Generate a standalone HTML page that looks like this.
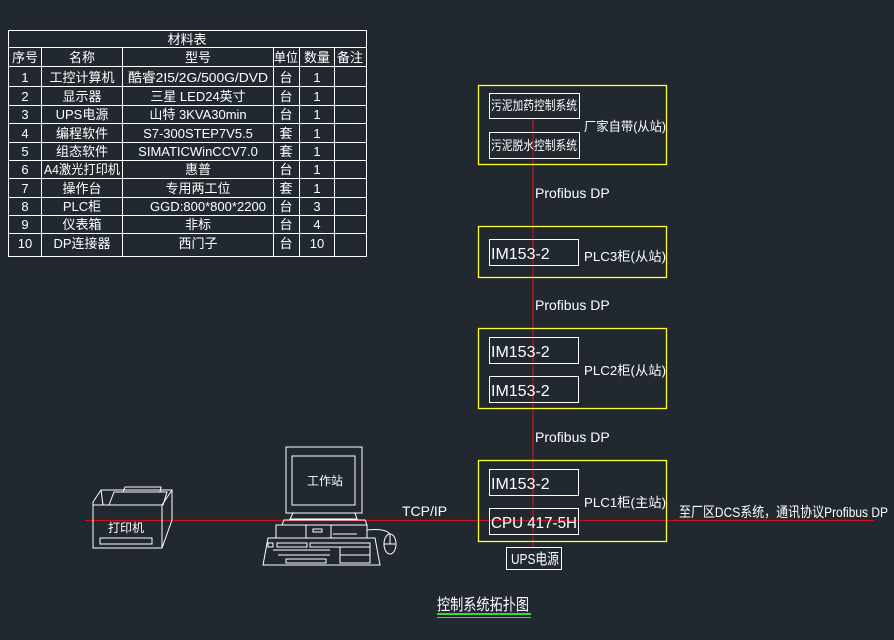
<!DOCTYPE html>
<html><head><meta charset="utf-8"><style>
html,body{margin:0;padding:0;background:#212830;}
svg{display:block;}
text{font-family:"Liberation Sans","Noto Sans CJK SC",sans-serif;fill:#fff;}
</style></head><body>
<svg width="894" height="640" viewBox="0 0 894 640" xmlns="http://www.w3.org/2000/svg">
<rect width="894" height="640" fill="#212830"/>
<g stroke="#fff" stroke-width="1" fill="none">
<rect x="8.5" y="30.5" width="358" height="226"/>
<line x1="8" y1="47.5" x2="366" y2="47.5"/>
<line x1="8" y1="66.5" x2="366" y2="66.5"/>
<line x1="8" y1="86.5" x2="366" y2="86.5"/>
<line x1="8" y1="105.5" x2="366" y2="105.5"/>
<line x1="8" y1="123.5" x2="366" y2="123.5"/>
<line x1="8" y1="142.5" x2="366" y2="142.5"/>
<line x1="8" y1="160.5" x2="366" y2="160.5"/>
<line x1="8" y1="178.5" x2="366" y2="178.5"/>
<line x1="8" y1="197.5" x2="366" y2="197.5"/>
<line x1="8" y1="215.5" x2="366" y2="215.5"/>
<line x1="8" y1="233.5" x2="366" y2="233.5"/>
<line x1="41.5" y1="47" x2="41.5" y2="256"/>
<line x1="122.5" y1="47" x2="122.5" y2="256"/>
<line x1="273.5" y1="47" x2="273.5" y2="256"/>
<line x1="299.5" y1="47" x2="299.5" y2="256"/>
<line x1="334.5" y1="47" x2="334.5" y2="256"/>
</g>
<g font-size="13" text-anchor="middle">
<text x="187" y="44">材料表</text>
<text x="25" y="62">序号</text><text x="82" y="62">名称</text><text x="198" y="62">型号</text><text x="286" y="62" textLength="24" lengthAdjust="spacingAndGlyphs">单位</text><text x="317" y="62">数量</text><text x="350" y="62">备注</text>
<text x="25" y="82">1</text><text x="82" y="82">工控计算机</text><text x="198" y="82" textLength="140" lengthAdjust="spacingAndGlyphs">酷睿2I5/2G/500G/DVD</text><text x="286" y="82">台</text><text x="317" y="82">1</text>
<text x="25" y="101">2</text><text x="82" y="101">显示器</text><text x="198" y="101">三星 LED24英寸</text><text x="286" y="101">台</text><text x="317" y="101">1</text>
<text x="25" y="119">3</text><text x="82" y="119">UPS电源</text><text x="198" y="119">山特 3KVA30min</text><text x="286" y="119">台</text><text x="317" y="119">1</text>
<text x="25" y="138">4</text><text x="82" y="138">编程软件</text><text x="198" y="138">S7-300STEP7V5.5</text><text x="286" y="138">套</text><text x="317" y="138">1</text>
<text x="25" y="156">5</text><text x="82" y="156">组态软件</text><text x="198" y="156">SIMATICWinCCV7.0</text><text x="286" y="156">套</text><text x="317" y="156">1</text>
<text x="25" y="174">6</text><text x="82" y="174" textLength="76" lengthAdjust="spacingAndGlyphs">A4激光打印机</text><text x="198" y="174">惠普</text><text x="286" y="174">台</text><text x="317" y="174">1</text>
<text x="25" y="193">7</text><text x="82" y="193">操作台</text><text x="198" y="193">专用两工位</text><text x="286" y="193">套</text><text x="317" y="193">1</text>
<text x="25" y="211">8</text><text x="82" y="211">PLC柜</text><text x="208" y="211" textLength="116" lengthAdjust="spacingAndGlyphs">GGD:800*800*2200</text><text x="286" y="211">台</text><text x="317" y="211">3</text>
<text x="25" y="229">9</text><text x="82" y="229">仪表箱</text><text x="198" y="229">非标</text><text x="286" y="229">台</text><text x="317" y="229">4</text>
<text x="25" y="248">10</text><text x="82" y="248">DP连接器</text><text x="198" y="248">西门子</text><text x="286" y="248">台</text><text x="317" y="248">10</text>
</g>
<g stroke="#d0101a" stroke-width="1.2">
<line x1="533" y1="118" x2="533" y2="547"/>
<line x1="85" y1="520.5" x2="874" y2="520.5"/>
</g>
<g stroke="#ffff33" stroke-width="1.3" fill="none">
<rect x="478.5" y="85.5" width="188" height="79"/>
<rect x="478.5" y="226.5" width="188" height="51"/>
<rect x="478.5" y="328.5" width="188" height="80"/>
<rect x="478.5" y="460.5" width="188" height="81"/>
</g>
<g stroke="#fff" stroke-width="1" fill="none">
<rect x="489.5" y="93.5" width="90" height="25"/>
<rect x="489.5" y="132.5" width="90" height="26"/>
<rect x="489.5" y="239.5" width="89" height="26"/>
<rect x="489.5" y="337.5" width="89" height="26"/>
<rect x="489.5" y="376.5" width="89" height="26"/>
<rect x="489.5" y="469.5" width="89" height="26"/>
<rect x="489.5" y="508.5" width="89" height="26"/>
<rect x="506.5" y="547.5" width="55" height="22"/>
</g>
<g font-size="13">
<text x="491" y="110" textLength="86" lengthAdjust="spacingAndGlyphs">污泥加药控制系统</text>
<text x="491" y="150" textLength="86" lengthAdjust="spacingAndGlyphs">污泥脱水控制系统</text>
<text x="584" y="131" textLength="82" lengthAdjust="spacingAndGlyphs">厂家自带(从站)</text>
<text x="491" y="259" font-size="16">IM153-2</text>
<text x="584" y="261" textLength="82" lengthAdjust="spacingAndGlyphs">PLC3柜(从站)</text>
<text x="491" y="357" font-size="16">IM153-2</text>
<text x="491" y="396" font-size="16">IM153-2</text>
<text x="584" y="375" textLength="82" lengthAdjust="spacingAndGlyphs">PLC2柜(从站)</text>
<text x="491" y="489" font-size="16">IM153-2</text>
<text x="491" y="528" font-size="16" textLength="86" lengthAdjust="spacingAndGlyphs">CPU 417-5H</text>
<text x="584" y="507" textLength="82" lengthAdjust="spacingAndGlyphs">PLC1柜(主站)</text>
<text x="511" y="564" font-size="15" textLength="48" lengthAdjust="spacingAndGlyphs">UPS电源</text>
<text x="535" y="198" font-size="14">Profibus DP</text>
<text x="535" y="310" font-size="14">Profibus DP</text>
<text x="535" y="442" font-size="14">Profibus DP</text>
<text x="402" y="516" font-size="14">TCP/IP</text>
<text x="679" y="517" font-size="14" textLength="209" lengthAdjust="spacingAndGlyphs">至厂区DCS系统，通讯协议Profibus DP</text>
<text x="437" y="610" font-size="16" textLength="92" lengthAdjust="spacingAndGlyphs">控制系统拓扑图</text>
</g>
<line x1="437" y1="614" x2="531" y2="614" stroke="#33dd33" stroke-width="2"/>
<line x1="437" y1="617.5" x2="531" y2="617.5" stroke="#33dd33" stroke-width="1"/>
<g stroke="#fff" stroke-width="1" fill="none">
<polygon points="93,502 101,490 172,490 172,520 162,548 93,548"/>
<line x1="101" y1="490" x2="103" y2="505"/>
<line x1="93" y1="505" x2="162" y2="505"/>
<line x1="162" y1="505" x2="172" y2="490"/>
<line x1="162" y1="505" x2="162" y2="548"/>
<polygon points="109,505 114,492 167,492 163,505"/>
<polygon points="123,492 125,487 161,487 160,492"/>
<rect x="100" y="538" width="52" height="6"/>
</g>
<text x="108" y="532" font-size="12">打印机</text>
<g stroke="#fff" stroke-width="1" fill="none">
<rect x="286" y="447" width="76" height="66"/>
<rect x="292" y="456" width="63" height="49"/>
<polygon points="293,513 355,513 357,519 290,519"/>
<polygon points="284,520 365,520 367,525 282,525"/>
<rect x="276" y="525" width="91" height="13"/>
<line x1="306" y1="525" x2="306" y2="538"/>
<line x1="331" y1="525" x2="331" y2="538"/>
<rect x="313" y="529" width="9" height="3"/>
<line x1="333" y1="534" x2="357" y2="534"/>
<polygon points="268,538 375,538 380,565 263,565"/>
<rect x="268" y="543" width="5" height="4"/>
<rect x="277" y="543" width="30" height="4"/>
<rect x="310" y="543" width="60" height="4"/>
<line x1="273" y1="550" x2="330" y2="550"/>
<line x1="278" y1="555" x2="330" y2="555"/>
<rect x="286" y="559" width="40" height="4"/>
<rect x="340" y="547" width="30" height="16"/>
<line x1="340" y1="555" x2="370" y2="555"/>
<ellipse cx="390" cy="544" rx="6" ry="10"/>
<line x1="384" y1="544" x2="396" y2="544"/>
<line x1="390" y1="534" x2="390" y2="544"/>
<path d="M367 530 Q385 528 390 534"/>
</g>
<text x="307" y="485" font-size="12">工作站</text>
</svg>
</body></html>
